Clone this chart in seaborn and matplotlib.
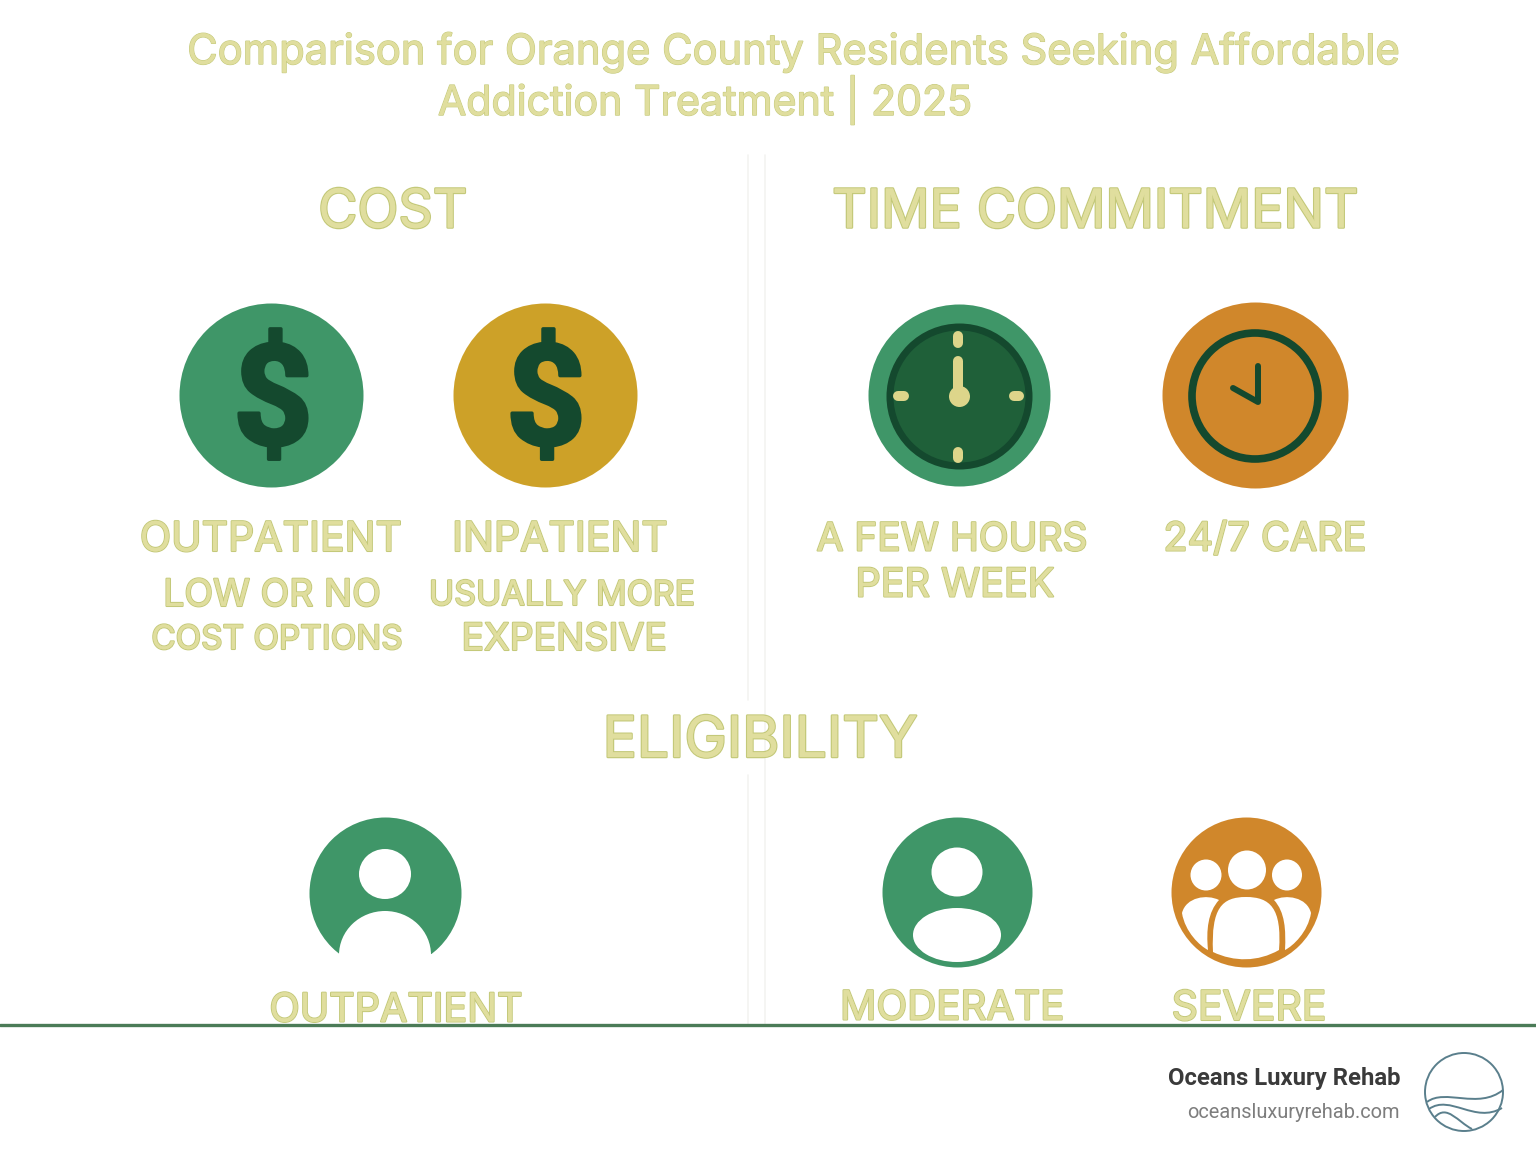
import matplotlib
matplotlib.use("Agg")
import matplotlib.pyplot as plt
import matplotlib.patheffects as pe
from matplotlib.patches import Circle, Ellipse, PathPatch, Rectangle
from matplotlib.path import Path
import seaborn as sns

# Text content
title_lines = ["Comparison for Orange County Residents Seeking Affordable",
               "Addiction Treatment | 2025"]
section_titles = ["COST", "TIME COMMITMENT", "ELIGIBILITY"]
option_labels = ["OUTPATIENT", "INPATIENT", "A FEW HOURS", "PER WEEK", "24/7 CARE",
                 "OUTPATIENT", "MODERATE", "SEVERE"]
note_labels = ["LOW OR NO", "COST OPTIONS", "USUALLY MORE", "EXPENSIVE"]
brand_name = "Oceans Luxury Rehab"
brand_url = "oceansluxuryrehab.com"

GREEN = "#3f9668"
GOLD = "#cda128"
ORANGE = "#d0872b"
DARK = "#14492e"
FACE = "#1f6039"
CREAM = "#ddd58a"
TEXT_FILL = "#e0de9e"
TEXT_EDGE = "#c4c97a"

sns.set_theme(style="white")
plt.rcParams["font.family"] = ["Inter", "DejaVu Sans"]

fig, ax = plt.subplots(figsize=(15.36, 11.54), dpi=100)
fig.subplots_adjust(left=0, right=1, top=1, bottom=0)
ax.set_xlim(0, 1536)
ax.set_ylim(1154, 0)
ax.axis("off")


def label(x, y, s, size, stroke=1.5):
    ax.text(x, y, s, fontsize=size, ha="center", va="center", color=TEXT_FILL, zorder=6,
            path_effects=[pe.withStroke(linewidth=stroke, foreground=TEXT_EDGE), pe.Normal()])


def disc(x, y, r, color, zorder=2):
    # marker size is in points^2, 1 px = 0.72 pt here
    sns.scatterplot(x=[x], y=[y], s=(2 * r * 0.72) ** 2, color=color, linewidth=0,
                    ax=ax, zorder=zorder, legend=False)


def hole(x, y, w, h, color="white", zorder=3):
    ax.add_patch(Ellipse((x, y), w, h, color=color, lw=0, zorder=zorder))


def shape(verts, color="white", zorder=3):
    codes = [Path.MOVETO] + [Path.CURVE4] * (len(verts) - 1)
    ax.add_patch(PathPatch(Path(verts, codes), facecolor=color, lw=0, zorder=zorder))


def stick(xs, ys, width, color, zorder=4):
    ax.plot(xs, ys, color=color, lw=width * 0.72, solid_capstyle="round",
            solid_joinstyle="round", zorder=zorder)


# Faint dividers and footer rule
for x, y0, y1 in [(748, 155, 700), (748, 775, 1025), (765, 155, 1025)]:
    ax.plot([x, x], [y0, y1], color="#f3f3f1", lw=1.2, zorder=1)
ax.plot([0, 1536], [1025, 1025], color="#4b7b57", lw=2.4, zorder=5)

# Title and headings
for s, x, y, size in zip(title_lines, [794, 705], [52, 100], [30, 29.6]):
    label(x, y, s, size, 1.0)
for s, x, y, size in zip(section_titles, [393, 1096, 760], [213, 213, 742], [38.6, 38.6, 41]):
    label(x, y, s, size, 1.8)
for s, x, y, size in zip(option_labels,
                         [271, 560, 952, 955, 1265, 396, 952, 1249],
                         [540, 540, 540, 586, 540, 1011, 1009, 1009],
                         [29.5, 29.5, 28, 28.5, 28.5, 28.5, 29, 29.5]):
    label(x, y, s, size, 1.5)
for s, x, y, size in zip(note_labels, [272, 277, 562, 564], [596, 640, 596, 640],
                         [27, 24, 24.5, 27]):
    label(x, y, s, size, 1.5)

# Cost icons
disc(271, 395, 92, GREEN)
disc(545, 395, 92, GOLD)
for x in [273, 546]:
    ax.text(x, 406, "$", fontsize=101, family="Roboto", fontweight="bold",
            ha="center", va="center", color=DARK, zorder=4,
            path_effects=[pe.withStroke(linewidth=2.5, foreground=DARK)])

# Green clock
disc(959, 395, 91, GREEN)
disc(959, 396, 73, DARK, 3)
disc(959, 396, 66, FACE, 3)
stick([958, 958], [336, 343], 10, CREAM)
stick([958, 958], [361, 392], 10, CREAM)
stick([958, 958], [452, 458], 10, CREAM)
stick([898, 904], [396, 396], 10, CREAM)
stick([1014, 1019], [396, 396], 10, CREAM)
disc(959, 396, 10.5, CREAM, 4)

# Orange clock
disc(1255, 395, 93, ORANGE)
ax.add_patch(Circle((1255, 396), 63, facecolor="none", edgecolor=DARK, lw=5.5, zorder=3))
stick([1258, 1258, 1233], [366, 402, 388], 6, DARK)

# Single person, bottom cut away
disc(385, 893, 76, GREEN)
hole(385, 874, 52, 50)
hole(385, 955, 92, 88)
ax.add_patch(Rectangle((300, 954), 170, 26, color="white", lw=0, zorder=3))

# Moderate
disc(957, 892, 75, GREEN)
hole(957, 872, 51, 49)
hole(957, 935, 88, 54)

# Severe
disc(1246, 892, 75, ORANGE)
hole(1247, 870, 38, 39)
hole(1206, 875, 31, 31)
hole(1287, 875, 30, 31)
shape([(1182, 913), (1186, 897), (1207, 894), (1219, 900), (1208, 912), (1206, 930),
       (1208, 950), (1200, 946), (1185, 932), (1182, 913)])
shape([(1311, 913), (1307, 897), (1286, 894), (1274, 900), (1285, 912), (1286, 930),
       (1285, 950), (1293, 946), (1308, 932), (1311, 913)])
shape([(1213, 952), (1211, 908), (1222, 897), (1246, 897), (1270, 897), (1282, 908),
       (1279, 950), (1258, 962), (1234, 962), (1213, 952)])

# Footer brand
ax.text(1400, 1079, brand_name, fontsize=17.2, family="Roboto", fontweight="bold",
        ha="right", va="center", color="#3a3a3a")
ax.text(1400, 1112, brand_url, fontsize=14.4, family="Roboto",
        ha="right", va="center", color="#7d7d7d")
LOGO = "#5a7f8c"
ax.add_patch(Circle((1464, 1092), 39, facecolor="none", edgecolor=LOGO, lw=1.4, zorder=3))
for verts in [[(1427, 1102), (1445, 1088), (1478, 1110), (1503, 1090)],
              [(1429, 1109), (1450, 1094), (1475, 1124), (1502, 1108)],
              [(1435, 1117), (1447, 1104), (1458, 1122), (1472, 1129)]]:
    codes = [Path.MOVETO] + [Path.CURVE4] * 3
    ax.add_patch(PathPatch(Path(verts, codes), facecolor="none", edgecolor=LOGO, lw=1.4, zorder=3))

fig.savefig("out.png", dpi=100, facecolor="white")
plt.close(fig)
